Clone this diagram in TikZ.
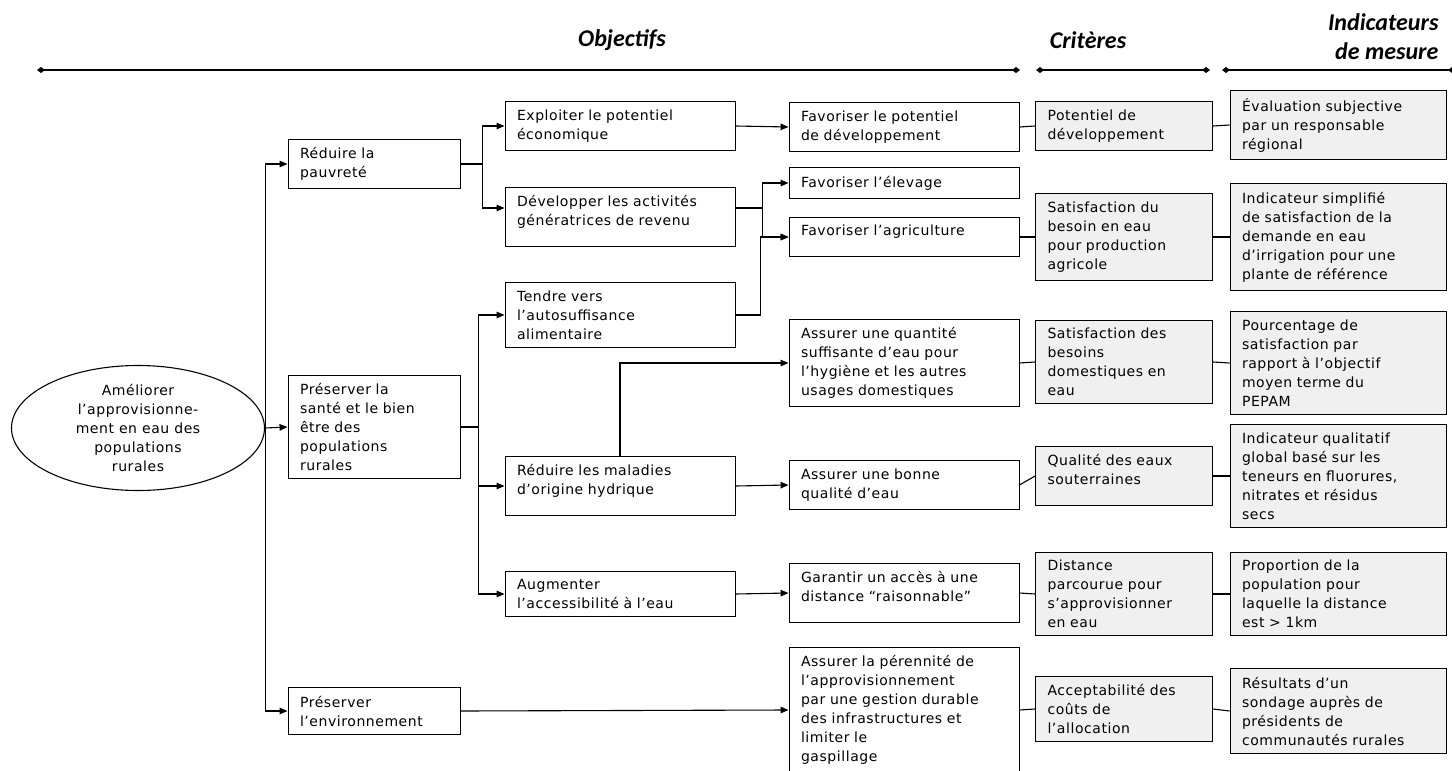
\documentclass[tikz,border=0pt]{standalone}
\usepackage{fontspec}
\setmainfont{DejaVu Sans}[LetterSpace=4]
\newfontfamily\headfont{Carlito}
\usetikzlibrary{shapes.geometric,arrows.meta}
\newcommand\gap{\\[-6pt]\mbox{}}

\begin{document}
\begin{tikzpicture}[x=1pt,y=-1pt,
  every node/.style={font=\fontsize{14}{19}\selectfont},
  obj/.style={draw,line width=0.9pt,rectangle,align=left,inner xsep=12pt,inner ysep=8pt},
  colA/.style={obj,text width=148pt},
  colB/.style={obj,text width=206pt},
  crit/.style={obj,fill=black!6,text width=153pt},
  ind/.style={obj,fill=black!6,text width=192pt},
  arr/.style={line width=1.1pt,-{Triangle[length=8pt,width=6.5pt]}},
  lnk/.style={line width=1.1pt},
  hline/.style={line width=1.1pt,{Diamond[length=8pt,width=6pt]}-{Diamond[length=8pt,width=6pt]}},
  head/.style={font=\headfont\bfseries\itshape\fontsize{24}{29}\selectfont}]
\useasboundingbox (0,0) rectangle (1452,771);

\node[head] (hobj) at (622,40) {Objectifs};
\node[head] (hcrit) at (1088,40) {Critères};
\node[head,align=right,anchor=east] (hind) at (1442,37) {Indicateurs\\de mesure};
\coordinate (h1) at (37,70);
\coordinate (h2) at (1020,70);
\coordinate (h3) at (1036,70);
\coordinate (h4) at (1210,70);
\coordinate (h5) at (1222,70);
\coordinate (h6) at (1456,70);
\draw[hline] (h1) -- (h2);
\draw[hline] (h3) -- (h4);
\draw[hline] (h5) -- (h6);

\node[draw,ellipse,line width=1.1pt,minimum width=253pt,minimum height=125pt,align=center,inner sep=0pt] (goal) at (138,428)
  {Améliorer\\l’approvisionne-\\ment en eau des\\populations\\rurales};

\node[colA] (pauv) at (374,164) {Réduire la\\pauvreté};
\node[colA] (sante) at (374,427) {Préserver la\\santé et le bien\\être des\\populations\\rurales};
\node[colA] (env) at (374,711) {Préserver\\l’environnement};

\node[colB] (expl) at (620,126) {Exploiter le potentiel\\économique};
\node[colB] (dev) at (620,217) {Développer les activités\\génératrices de revenu\gap};
\node[colB] (tend) at (620,315) {Tendre vers\\l’autosuffisance\\alimentaire};
\node[colB] (mal) at (620,486) {Réduire les maladies\\d’origine hydrique\gap};
\node[colB] (acc) at (620,594) {Augmenter\\l’accessibilité à l’eau};

\node[colB] (favpot) at (904,127) {Favoriser le potentiel\\de développement};
\node[colB] (elev) at (904,183) {Favoriser l’élevage};
\node[colB] (agri) at (904,237) {Favoriser l’agriculture\gap};
\node[colB] (quant) at (904,363) {Assurer une quantité\\suffisante d’eau pour\\l’hygiène et les autres\\usages domestiques};
\node[colB] (qual) at (904,485) {Assurer une bonne\\qualité d’eau};
\node[colB] (garant) at (904,593) {Garantir un accès à une\\distance “raisonnable”\gap};
\node[colB] (peren) at (904,710) {Assurer la pérennité de\\l’approvisionnement\\par une gestion durable\\des infrastructures et\\limiter le\\gaspillage};

\node[crit] (potdev) at (1124,126) {Potentiel de\\développement};
\node[crit] (besagri) at (1124,237) {Satisfaction du\\besoin en eau\\pour production\\agricole};
\node[crit] (besdom) at (1124,362) {Satisfaction des\\besoins\\domestiques en\\eau};
\node[crit] (qualeau) at (1124,476) {Qualité des eaux\\souterraines\gap};
\node[crit] (dist) at (1124,594) {Distance\\parcourue pour\\s’approvisionner\\en eau};
\node[crit] (accept) at (1124,709) {Acceptabilité des\\coûts de\\l’allocation};

\node[ind] (eval) at (1338,125) {Évaluation subjective\\par un responsable\\régional};
\node[ind] (indsimp) at (1338,237) {Indicateur simplifié\\de satisfaction de la\\demande en eau\\d’irrigation pour une\\plante de référence};
\node[ind] (pourc) at (1338,363) {Pourcentage de\\satisfaction par\\rapport à l’objectif\\moyen terme du\\PEPAM};
\node[ind] (indqual) at (1338,476) {Indicateur qualitatif\\global basé sur les\\teneurs en fluorures,\\nitrates et résidus\\secs};
\node[ind] (prop) at (1338,594) {Proportion de la\\population pour\\laquelle la distance\\est > 1km};
\node[ind] (result) at (1338,711) {Résultats d’un\\sondage auprès de\\présidents de\\communautés rurales};

\draw[arr] (goal.east) -- (sante.west);
\draw[arr] (goal.east) |- (pauv.west);
\draw[arr] (goal.east) |- (env.west);
\draw[arr] (pauv.east) -- ++(22,0) |- (expl.west);
\draw[arr] (pauv.east) -- ++(22,0) |- ([yshift=9pt]dev.west);
\draw[arr] (sante.east) -- ++(18,0) |- (tend.west);
\draw[arr] (sante.east) -- ++(18,0) |- (mal.west);
\draw[arr] (sante.east) -- ++(18,0) |- (acc.west);
\draw[arr] ([yshift=9pt]dev.east) -- ++(27,0) |- (elev.west);
\draw[arr] ([yshift=9pt]dev.east) -- ++(27,0) |- (agri.west);
\draw[arr] (tend.east) -- ++(25,0) |- (agri.west);
\draw[arr] (expl.east) -- (favpot.west);
\draw[arr] (mal.north) |- (quant.west);
\draw[arr] (mal.east) -- (qual.west);
\draw[arr] (acc.east) -- (garant.west);
\draw[arr] (env.east) -- (peren.west);
\foreach \a/\b in {favpot/potdev,potdev/eval,agri/besagri,besagri/indsimp,quant/besdom,besdom/pourc,
  qual/qualeau,qualeau/indqual,garant/dist,dist/prop,peren/accept,accept/result}
  \draw[lnk] (\a.east) -- (\b.west);
\end{tikzpicture}
\end{document}
